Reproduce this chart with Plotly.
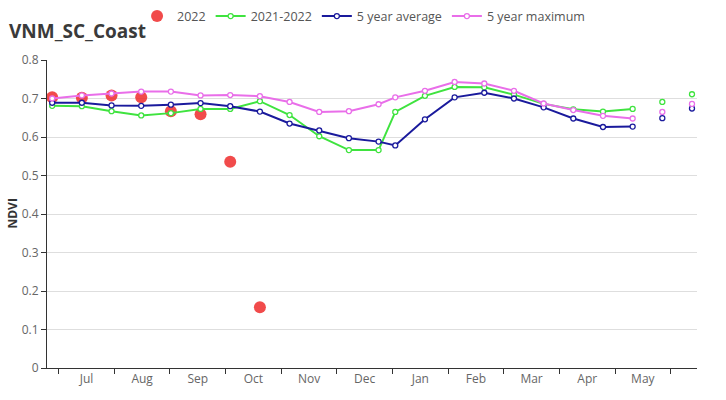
import plotly.graph_objects as go

# ---- data ----
# x: composite day offsets from the first composite of the season
composite_day = [0, 16, 32, 48, 64, 80, 96, 112, 128, 144, 160, 176,
                 185, 201, 217, 233, 249, 265, 281, 297, 313, 329, 345]

ndvi_2022 = [0.703, 0.702, 0.708, 0.703, 0.667, 0.659, 0.536, 0.158]

ndvi_2021_2022 = [0.681, 0.680, 0.667, 0.656, 0.662, 0.673, 0.673, 0.693, 0.657, 0.602,
                  0.566, 0.566, 0.665, 0.707, 0.730, 0.729, 0.710, 0.686, 0.672, 0.666,
                  0.673, 0.691, 0.711]

ndvi_5yr_avg = [0.689, 0.689, 0.682, 0.681, 0.684, 0.688, 0.680, 0.666, 0.635, 0.617,
                0.597, 0.588, 0.578, 0.646, 0.703, 0.715, 0.700, 0.677, 0.648, 0.626,
                0.627, 0.649, 0.674]

ndvi_5yr_max = [0.700, 0.708, 0.713, 0.718, 0.718, 0.708, 0.709, 0.706, 0.691, 0.665,
                0.667, 0.685, 0.703, 0.720, 0.743, 0.739, 0.720, 0.687, 0.670, 0.655,
                0.648, 0.665, 0.686]

month_labels = ["Jul", "Aug", "Sep", "Oct", "Nov", "Dec", "Jan", "Feb", "Mar", "Apr", "May"]
month_start_day = [3.5 + 30 * i for i in range(12)]
y_ticks = [0, 0.1, 0.2, 0.3, 0.4, 0.5, 0.6, 0.7, 0.8]

# ---- figure ----
GREEN = "#3fe33f"
BLUE = "#1a1a9c"
PINK = "#e96ee9"
RED = "#ee2b2b"

fig = go.Figure()

fig.add_trace(go.Scatter(
    x=composite_day[:len(ndvi_2022)], y=ndvi_2022, mode="markers", name="2022",
    marker=dict(color=RED, size=12, opacity=0.85, line=dict(width=0)),
))

n_line = 21
for name, vals, col in [("2021-2022", ndvi_2021_2022, GREEN),
                        ("5 year average", ndvi_5yr_avg, BLUE),
                        ("5 year maximum", ndvi_5yr_max, PINK)]:
    fig.add_trace(go.Scatter(
        x=composite_day[:n_line], y=vals[:n_line], mode="lines+markers", name=name,
        legendgroup=name,
        line=dict(color=col, width=2),
        marker=dict(symbol="circle", size=5, color="white", line=dict(color=col, width=1.3)),
    ))
    fig.add_trace(go.Scatter(
        x=composite_day[n_line:], y=vals[n_line:], mode="markers", name=name,
        legendgroup=name, showlegend=False,
        marker=dict(symbol="circle", size=5, color="white", line=dict(color=col, width=1.3)),
    ))

label_pos = [(month_start_day[i] + month_start_day[i + 1]) / 2 for i in range(len(month_labels))]

FONT = "Open Sans, Noto Sans, sans-serif"
PLOT_W = 650.5
L = 46.5

fig.update_layout(
    width=726, height=400,
    margin=dict(l=L, r=29, t=60.3, b=31.7, autoexpand=False),
    paper_bgcolor="white", plot_bgcolor="white",
    font=dict(family=FONT, color="#555", size=12),
    showlegend=True,
    legend=dict(orientation="h", x=0.487, xanchor="center", y=1.19, yanchor="top",
                font=dict(size=12.5, color="#555"), itemwidth=30, tracegroupgap=0,
                bgcolor="rgba(0,0,0,0)"),
    annotations=[
        dict(text="<b>VNM_SC_Coast</b>", xref="paper", yref="paper",
             x=(6 - L) / PLOT_W, xanchor="left",
             y=1 + 29 / 308, yanchor="middle", showarrow=False,
             font=dict(size=19, color="#3a3a3a", family=FONT)),
        dict(text="<b>NDVI</b>", xref="paper", yref="paper",
             x=(11 - L) / PLOT_W, xanchor="center", y=0.5, yanchor="middle",
             textangle=-90, showarrow=False,
             font=dict(size=12, color="#333", family=FONT)),
    ],
    xaxis=dict(
        range=[-2.8, 347.7], showgrid=False, zeroline=False,
        showline=True, linecolor="#333", linewidth=1,
        tickmode="array", tickvals=label_pos, ticktext=month_labels, ticks="",
        tickfont=dict(size=12, color="#666"),
        minor=dict(tickmode="array", tickvals=month_start_day, ticks="outside",
                   ticklen=5, tickcolor="#333", tickwidth=1, showgrid=False),
    ),
    yaxis=dict(
        range=[0, 0.8], tickmode="array", tickvals=y_ticks,
        ticktext=["0", "0.1", "0.2", "0.3", "0.4", "0.5", "0.6", "0.7", "0.8"],
        showgrid=True, gridcolor="#dedede", gridwidth=1, zeroline=False,
        showline=True, linecolor="#333", linewidth=1,
        ticks="outside", ticklen=5, tickcolor="#333",
        tickfont=dict(size=12, color="#666"),
    ),
)

fig.write_html("out.html", config={"displayModeBar": False},
               post_script="document.body.style.margin='0';document.body.style.overflow='hidden';")
